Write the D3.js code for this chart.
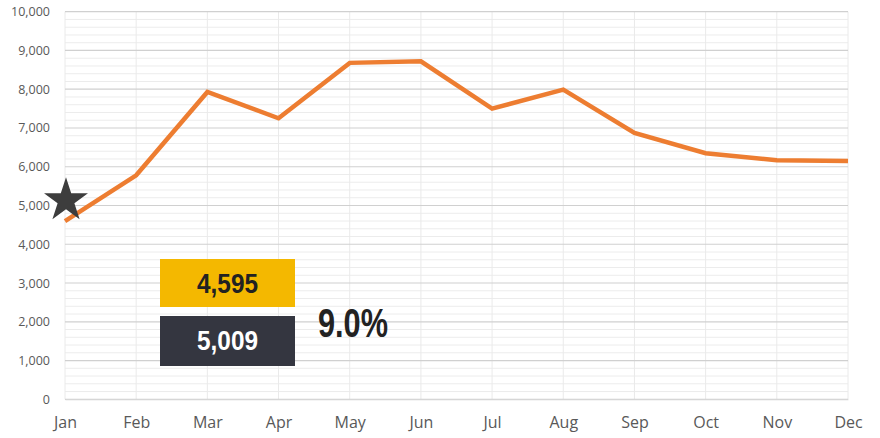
<!DOCTYPE html>
<html><head><meta charset="utf-8">
<script src="https://cdn.jsdelivr.net/npm/d3@7"></script>
<style>body{margin:0;background:#fff}svg{display:block}</style>
</head><body>
<svg id="c" width="880" height="438"></svg>
<script>
const months = ["Jan","Feb","Mar","Apr","May","Jun","Jul","Aug","Sep","Oct","Nov","Dec"];
const values = [4595,5780,7930,7250,8680,8720,7500,7990,6870,6350,6170,6150];
const yMajorTicks = [0,1000,2000,3000,4000,5000,6000,7000,8000,9000,10000];
const yMinorStep = 200;
const starMonth = "Jan";
const starValue = 5130;
const boxValues = ["4,595","5,009"];
const boxColors = ["#F4B800","#343640"];
const boxTextColors = ["#222222","#ffffff"];
const changeLabel = "9.0%";

const svg = d3.select("#c");
const x = d3.scalePoint().domain(months).range([65,848]);
const y = d3.scaleLinear().domain([0,10000]).range([399.3,11.7]);

const minor = d3.range(0,10001,yMinorStep).filter(v=>v%1000!==0);
svg.append("g").selectAll("line").data(minor).join("line")
  .attr("x1",65).attr("x2",848).attr("y1",d=>y(d)).attr("y2",d=>y(d))
  .attr("stroke","#ececec").attr("stroke-width",1);
svg.append("g").selectAll("line").data(months).join("line")
  .attr("x1",d=>x(d)).attr("x2",d=>x(d)).attr("y1",y(10000)).attr("y2",y(0))
  .attr("stroke","#eaeaea").attr("stroke-width",1);
svg.append("g").selectAll("line").data(yMajorTicks).join("line")
  .attr("x1",65).attr("x2",848).attr("y1",d=>y(d)).attr("y2",d=>y(d))
  .attr("stroke","#d0d0d0").attr("stroke-width",1.2);

const yAxis = d3.axisLeft(y).tickValues(yMajorTicks).tickFormat(d3.format(",")).tickSize(0).tickPadding(15);
const ga = svg.append("g").attr("transform","translate(65,0)").call(yAxis);
ga.select(".domain").remove();
ga.selectAll("text").attr("font-family","'Open Sans', sans-serif").attr("font-size",12.5).attr("fill","#595959");

const xAxis = d3.axisBottom(x).tickSize(0).tickPadding(17);
const gx = svg.append("g").attr("transform",`translate(0,${y(0)})`).call(xAxis);
gx.select(".domain").attr("stroke","#d9d9d9");
gx.selectAll("text").attr("font-family","'Open Sans', sans-serif").attr("font-size",16).attr("fill","#595959");

const line = d3.line().x((d,i)=>x(months[i])).y(d=>y(d));
svg.append("path").datum(values).attr("d",line)
  .attr("fill","none").attr("stroke","#ED7D31").attr("stroke-width",4.5).attr("stroke-linejoin","miter");

svg.append("path").attr("d",d3.symbol(d3.symbolStar,600)())
  .attr("transform",`translate(${x(starMonth)+1},${y(starValue)})`)
  .attr("fill","#3d3d3d");

const boxY = [259,316];
const bw = 135, bx = 160;
boxValues.forEach((v,i)=>{
  svg.append("rect").attr("x",bx).attr("y",boxY[i]).attr("width",bw).attr("height",i===0?48:50).attr("fill",boxColors[i]);
  svg.append("text").attr("x",bx+bw/2).attr("y",boxY[i]+34).attr("text-anchor","middle")
    .attr("font-family","'Liberation Sans', Arial, sans-serif").attr("font-weight","bold")
    .attr("font-size",28).attr("fill",boxTextColors[i])
    .attr("textLength",61).attr("lengthAdjust","spacingAndGlyphs").text(v);
});
svg.append("text").attr("x",318).attr("y",337).attr("font-family","'Liberation Sans', Arial, sans-serif")
  .attr("font-weight","bold").attr("font-size",40).attr("fill","#222")
  .attr("textLength",70).attr("lengthAdjust","spacingAndGlyphs").text(changeLabel);
</script>
</body></html>
